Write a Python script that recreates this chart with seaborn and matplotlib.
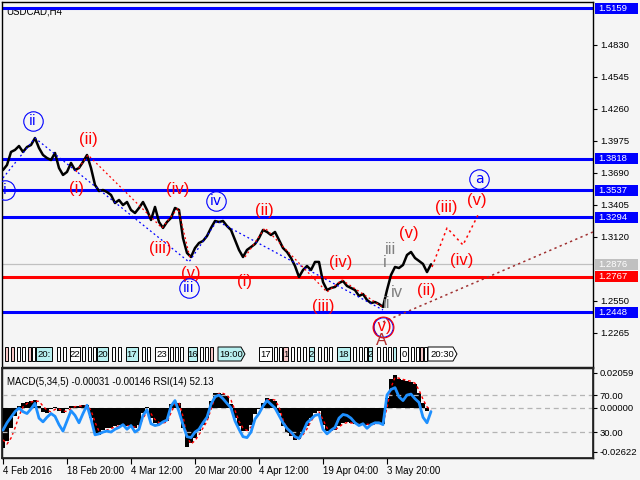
import numpy as np
import matplotlib
matplotlib.use('Agg')
import matplotlib.pyplot as plt
import matplotlib.transforms as mtransforms
from matplotlib.patches import Rectangle, Polygon
import seaborn as sns

sns.set_theme(style='white')
plt.rcParams['font.family'] = ['Liberation Sans', 'DejaVu Sans']

# USDCAD H4 closes (sampled), 4 Feb 2016 -> May 2016
close = [1.3716, 1.3761, 1.3877, 1.3895, 1.3930, 1.3877, 1.3921, 1.3939, 1.4001, 1.3912, 1.3850, 1.3823,
         1.3805, 1.3868, 1.3734, 1.3672, 1.3699, 1.3779, 1.3716, 1.3734, 1.3788, 1.3850, 1.3734, 1.3583,
         1.3529, 1.3538, 1.3520, 1.3494, 1.3422, 1.3449, 1.3404, 1.3431, 1.3360, 1.3333, 1.3378, 1.3431,
         1.3360, 1.3271, 1.3387, 1.3253, 1.3200, 1.3253, 1.3289, 1.3378, 1.3360, 1.3110, 1.2977, 1.2941,
         1.3021, 1.3066, 1.3084, 1.3128, 1.3200, 1.3262, 1.3253, 1.3262, 1.3217, 1.3182, 1.3093, 1.3004,
         1.2941, 1.3004, 1.3030, 1.3057, 1.3110, 1.3182, 1.3164, 1.3137, 1.3164, 1.3093, 1.3021, 1.2986,
         1.2932, 1.2861, 1.2763, 1.2825, 1.2861, 1.2825, 1.2897, 1.2897, 1.2718, 1.2647, 1.2665, 1.2674,
         1.2709, 1.2727, 1.2683, 1.2665, 1.2647, 1.2594, 1.2611, 1.2558, 1.2531, 1.2540, 1.2522, 1.2496,
         1.2647, 1.2781, 1.2852, 1.2843, 1.2870, 1.2959, 1.2986, 1.2932, 1.2906, 1.2879, 1.2807, 1.2876]

macd = [-0.0239, -0.0200, -0.0120, -0.0050, 0.0010, 0.0030, 0.0036, 0.0040, 0.0046, 0.0010, -0.0025, -0.0030,
        -0.0010, 0.0005, -0.0020, -0.0030, -0.0010, 0.0010, 0.0012, 0.0008, 0.0014, 0.0018, -0.0060, -0.0150,
        -0.0160, -0.0130, -0.0120, -0.0120, -0.0110, -0.0105, -0.0100, -0.0110, -0.0115, -0.0120, -0.0100, -0.0030,
        0.0005, -0.0060, -0.0090, -0.0095, -0.0090, -0.0080, 0.0020, 0.0034, 0.0030, -0.0120, -0.0230, -0.0210,
        -0.0180, -0.0140, -0.0100, -0.0060, 0.0040, 0.0085, 0.0090, 0.0080, 0.0070, 0.0020, -0.0060, -0.0110,
        -0.0140, -0.0140, -0.0100, -0.0040, -0.0010, 0.0030, 0.0058, 0.0050, 0.0040, -0.0030, -0.0110, -0.0150,
        -0.0170, -0.0190, -0.0185, -0.0150, -0.0110, -0.0060, -0.0030, -0.0020, -0.0100, -0.0135, -0.0140, -0.0130,
        -0.0110, -0.0090, -0.0085, -0.0090, -0.0095, -0.0100, -0.0095, -0.0100, -0.0100, -0.0095, -0.0090, -0.0095,
        0.0060, 0.0170, 0.0194, 0.0170, 0.0164, 0.0160, 0.0155, 0.0140, 0.0090, 0.0030, -0.0020, -0.0003]

signal = [-0.0190, -0.0215, -0.0180, -0.0120, -0.0050, 0.0005, 0.0025, 0.0034, 0.0040, 0.0038, 0.0010, -0.0015,
          -0.0025, -0.0010, -0.0008, -0.0020, -0.0022, -0.0005, 0.0006, 0.0010, 0.0010, 0.0014, -0.0015, -0.0085,
          -0.0140, -0.0145, -0.0132, -0.0122, -0.0115, -0.0108, -0.0103, -0.0105, -0.0110, -0.0115, -0.0108, -0.0065,
          -0.0020, -0.0035, -0.0070, -0.0088, -0.0090, -0.0085, -0.0030, 0.0020, 0.0030, -0.0050, -0.0170, -0.0215,
          -0.0195, -0.0160, -0.0120, -0.0080, -0.0010, 0.0060, 0.0085, 0.0085, 0.0075, 0.0045, -0.0015, -0.0080,
          -0.0120, -0.0135, -0.0115, -0.0070, -0.0030, 0.0010, 0.0045, 0.0052, 0.0045, 0.0005, -0.0070, -0.0125,
          -0.0155, -0.0178, -0.0185, -0.0160, -0.0125, -0.0080, -0.0045, -0.0025, -0.0070, -0.0120, -0.0135, -0.0130,
          -0.0115, -0.0095, -0.0088, -0.0090, -0.0093, -0.0097, -0.0095, -0.0098, -0.0100, -0.0097, -0.0092, -0.0093,
          0.0000, 0.0120, 0.0180, 0.0175, 0.0168, 0.0162, 0.0157, 0.0145, 0.0105, 0.0050, 0.0005, -0.00146]

rsi = [32, 40, 46, 52, 56, 52, 50, 55, 61, 45, 41, 46,
       50, 47, 38, 31, 42, 53, 48, 40, 50, 59, 44, 27,
       28, 30, 31, 30, 33, 35, 38, 33, 37, 30, 33, 48,
       54, 39, 37, 38, 41, 43, 58, 64, 52, 38, 25, 24,
       30, 33, 40, 46, 60, 68, 70, 66, 61, 56, 42, 33,
       25, 24, 30, 44, 50, 58, 64, 60, 56, 48, 40, 34,
       30, 25, 23, 30, 40, 44, 48, 49, 33, 28, 32, 35,
       45, 49, 48, 45, 40, 37, 39, 34, 38, 40, 40, 38,
       70, 76, 78, 68, 64, 70, 71, 66, 62, 46, 40, 52.13]

date_pos = [0, 16, 32, 48, 64, 80, 96]
date_labels = ['4 Feb 2016', '18 Feb 20:00', '4 Mar 12:00', '20 Mar 20:00',
               '4 Apr 12:00', '19 Apr 04:00', '3 May 20:00']

price_ticks = [1.2265, 1.2550, 1.3120, 1.3405, 1.3690, 1.3975, 1.4260, 1.4545, 1.4830]
blue_levels = [1.5159, 1.3818, 1.3537, 1.3294, 1.2448]
red_level = 1.2767
last_price = 1.2876

# wave paths (bar index, price)
blue_wave = [(0, 1.3645), (8, 1.4001), (46.5, 1.2897), (53.5, 1.3262), (95, 1.2469)]
red_wave1 = [(18.25, 1.3699), (21.25, 1.3850), (39.75, 1.3200), (43.75, 1.3378), (46.75, 1.2932)]
red_wave2 = [(60.5, 1.2941), (65.5, 1.3200), (81, 1.2629), (84.75, 1.2736), (95.25, 1.2487)]
red_forecast = [(107.25, 1.2852), (111, 1.3200), (115, 1.3048), (118.75, 1.3315)]
trend_line = [(95, 1.2362), (147.5, 1.3164)]

blue_labels = [('i', 0.5, 1.3538), ('ii', 7.5, 1.4153), ('iii', 46.5, 1.2665),
               ('iv', 53.25, 1.3440), ('a', 119, 1.3636)]
red_labels = [('(ii)', 21.25, 1.3992), ('(i)', 18.5, 1.3547), ('(iv)', 43.75, 1.3538),
              ('(iii)', 39.25, 1.3021), ('(v)', 47, 1.2790), ('(ii)', 65.25, 1.3351),
              ('(i)', 60.5, 1.2727), ('(iv)', 84.5, 1.2888), ('(iii)', 80, 1.2496),
              ('(v)', 94.75, 1.2326), ('(v)', 101.5, 1.3146), ('(ii)', 105.75, 1.2647),
              ('(iii)', 110.75, 1.3378), ('(v)', 118.5, 1.3440), ('(iv)', 114.75, 1.2906)]
gray_labels = [('iii', 96.75, 1.3012), ('i', 95.5, 1.2888), ('iv', 98.5, 1.2629), ('ii', 96, 1.2531)]
end_point = (95, 1.2318)   # blue v / red (v) circles at the low, with A below

idx = np.arange(len(close))
bg = '#f5f5f5'

fig = plt.figure(figsize=(6.4, 4.8), dpi=100, facecolor=bg)
ax = fig.add_axes([2 / 640, 113 / 480, 591 / 640, 365 / 480], facecolor=bg)
ax2 = fig.add_axes([2 / 640, 22 / 480, 591 / 640, 90 / 480], facecolor=bg)

for a in (ax, ax2):
    a.set_xlim(-0.25, 147.5)
    for s in a.spines.values():
        s.set_color('black')
        s.set_linewidth(1)

# main price panel
ax.set_ylim(1.1961, 1.5213)
for lvl in blue_levels:
    ax.axhline(lvl, color='#0000ff', lw=2.2, zorder=2)
ax.axhline(red_level, color='#ff0000', lw=2.2, zorder=2)
ax.axhline(last_price, color='#c0c0c0', lw=0.9, zorder=1)

sns.lineplot(x=idx, y=close, ax=ax, color='black', lw=1.8, zorder=3)

def draw_path(pts, color, lw=0.9):
    xs, ys = zip(*pts)
    ax.plot(xs, ys, color=color, lw=lw, ls=(0, (1.5, 2.2)), zorder=4)

draw_path(blue_wave, '#0000ff')
draw_path(red_wave1, '#ff0000')
draw_path(red_wave2, '#ff0000')
draw_path(red_forecast, '#ff0000', lw=1.1)
draw_path(trend_line, '#a03030', lw=1.1)

lab_font = dict(fontsize=12, ha='center', va='center', zorder=6)
for t, x, y in blue_labels:
    ax.plot([x], [y], marker='o', ms=14, mfc='none', mec='#0000ff', mew=0.8, zorder=6)
    ax.text(x, y, t, color='#0000ff', clip_on=True, family='DejaVu Sans',
            fontsize=10, ha='center', va='center', zorder=6)
for t, x, y in red_labels:
    ax.text(x, y, t, color='#ff0000', **lab_font)
for t, x, y in gray_labels:
    ax.text(x, y, t, color='#808080', **lab_font)
ax.plot([end_point[0]], [end_point[1]], marker='o', ms=14, mfc='none', mec='#0000ff', mew=0.8, zorder=6)
ax.plot([end_point[0]], [end_point[1] - 0.0005], marker='o', ms=15, mfc='none', mec='#ff0000', mew=0.8, zorder=6)
ax.text(94.75, 1.2195, 'A', color='#b03030', **lab_font)

ax.text(0.008, 0.988, 'USDCAD,H4', transform=ax.transAxes, va='top', ha='left',
        fontsize=7, color='black', zorder=1)

ax.set_xticks([])
ax.yaxis.tick_right()
ax.set_yticks(price_ticks)
ax.set_yticklabels(['%.4f' % v for v in price_ticks])
ax.tick_params(axis='y', direction='out', length=3, width=0.8, labelsize=6.8, pad=2,
               colors='black', right=True, left=False)
ax.set_xlabel('')
ax.set_ylabel('')

# price labels on the right
blend = mtransforms.blended_transform_factory(ax.transAxes, ax.transData)
boxes = [(v, '#0000ff', 'white') for v in blue_levels]
boxes += [(red_level, '#ff0000', 'white'), (last_price, '#c0c0c0', 'white')]
for v, fc, tc in boxes:
    ax.add_patch(Rectangle((1.0034, v - 0.0049), 0.0727, 0.0098, transform=blend,
                           fc=fc, ec='none', clip_on=False, zorder=7))
    ax.text(1.0095, v, '%.4f' % v, transform=blend, color=tc, fontsize=6.8,
            va='center', ha='left', clip_on=False, zorder=8)

# time label strip (axes fraction x from pixels)
def fx(p):
    return (p - 2) / 591

y0, y1 = 0.0164, 0.0548
cols = {'w': 'white', 'c': '#b8f0f0', 'p': '#f6c6c6'}
wide_boxes = [(36, 52, '20:', 'c'), (70, 80, '22', 'w'), (97, 108, '20', 'c'),
              (126, 138, '17', 'c'), (155, 168, '23', 'w'), (188, 197, '16', 'c'),
              (218, 245, '19:00', 'c'), (259, 272, '17', 'w'), (283, 288, '1', 'p'),
              (309, 314, '2', 'c'), (337, 350, '18', 'c'), (368, 372, '2', 'c'),
              (400, 408, '0', 'w'), (428, 457, '20:30', 'w')]
narrow_boxes = [(5, 'p'), (11, 'p'), (17, 'w'), (22, 'w'), (28, 'p'), (32, 'w'), (57, 'w'),
                (63, 'w'), (82, 'w'), (88, 'w'), (93, 'w'), (112, 'w'), (118, 'w'), (142, 'w'),
                (147, 'w'), (170, 'w'), (175, 'w'), (180, 'w'), (200, 'w'), (205, 'w'),
                (210, 'p'), (274, 'w'), (279, 'w'), (291, 'w'), (297, 'w'), (303, 'w'),
                (318, 'w'), (324, 'w'), (329, 'w'), (353, 'w'), (359, 'w'), (364, 'w'),
                (377, 'w'), (383, 'w'), (388, 'w'), (393, 'c'), (411, 'w'), (416, 'w'),
                (420, 'p'), (424, 'w')]
for p, c in narrow_boxes:
    ax.add_patch(Rectangle((fx(p), y0), fx(p + 3) - fx(p), y1 - y0, transform=ax.transAxes,
                           fc=cols[c], ec='black', lw=0.7, zorder=5))
for a0, a1, t, c in wide_boxes:
    if ':' in t and len(t) > 3:
        pts = [(fx(a0), y0), (fx(a1 - 4), y0), (fx(a1), (y0 + y1) / 2), (fx(a1 - 4), y1), (fx(a0), y1)]
        ax.add_patch(Polygon(pts, closed=True, transform=ax.transAxes,
                             fc=cols[c], ec='black', lw=0.7, zorder=5))
    else:
        ax.add_patch(Rectangle((fx(a0), y0), fx(a1) - fx(a0), y1 - y0, transform=ax.transAxes,
                               fc=cols[c], ec='black', lw=0.7, zorder=5))
    ax.text((fx(a0) + fx(a1)) / 2, (y0 + y1) / 2, t, transform=ax.transAxes,
            fontsize=6.8, ha='center', va='center', color='black', zorder=6)

# MACD + RSI panel
ax2.set_ylim(-0.02978, 0.02355)
ax2.axhline(0, color='#b4b4b4', lw=0.9, ls=(0, (4, 3)), zorder=0)
ax2.bar(idx, macd, width=1.0, color='black', linewidth=0, zorder=2)
sns.lineplot(x=idx, y=signal, ax=ax2, color='#ff0000', lw=1.0, ls=(0, (2, 2)), zorder=3)

ax3 = ax2.twinx()
ax3.set_ylim(1.96, 99.2)
ax3.set_xlim(-0.25, 147.5)
for lvl in (70, 30):
    ax3.axhline(lvl, color='#b4b4b4', lw=0.9, ls=(0, (4, 3)), zorder=0)
sns.lineplot(x=idx, y=rsi, ax=ax3, color='#1e90ff', lw=2.0, zorder=4)

ax2.yaxis.tick_right()
ax2.set_yticks([0.02059, 0.0, -0.02622])
ax2.set_yticklabels(['0.02059', '0.00000', '-0.02622'])
ax3.set_yticks([70, 30])
ax3.set_yticklabels(['70.00', '30.00'])
for a in (ax2, ax3):
    a.tick_params(axis='y', direction='out', length=3, width=0.8, labelsize=6.8, pad=2,
                  colors='black', right=True, left=False)
    a.set_xlabel('')
    a.set_ylabel('')
    a.grid(False)

ax2.set_xticks(date_pos)
ax2.set_xticklabels(date_labels, ha='left')
ax2.tick_params(axis='x', direction='out', length=4, width=0.8, labelsize=7, pad=2,
                colors='black', bottom=True)

ax2.text(0.008, 0.9, 'MACD(5,34,5) -0.00031 -0.00146 RSI(14) 52.13', transform=ax2.transAxes,
         fontsize=7, va='top', ha='left', color='black', zorder=6)

fig.savefig('out.png', dpi=100, facecolor=bg)
